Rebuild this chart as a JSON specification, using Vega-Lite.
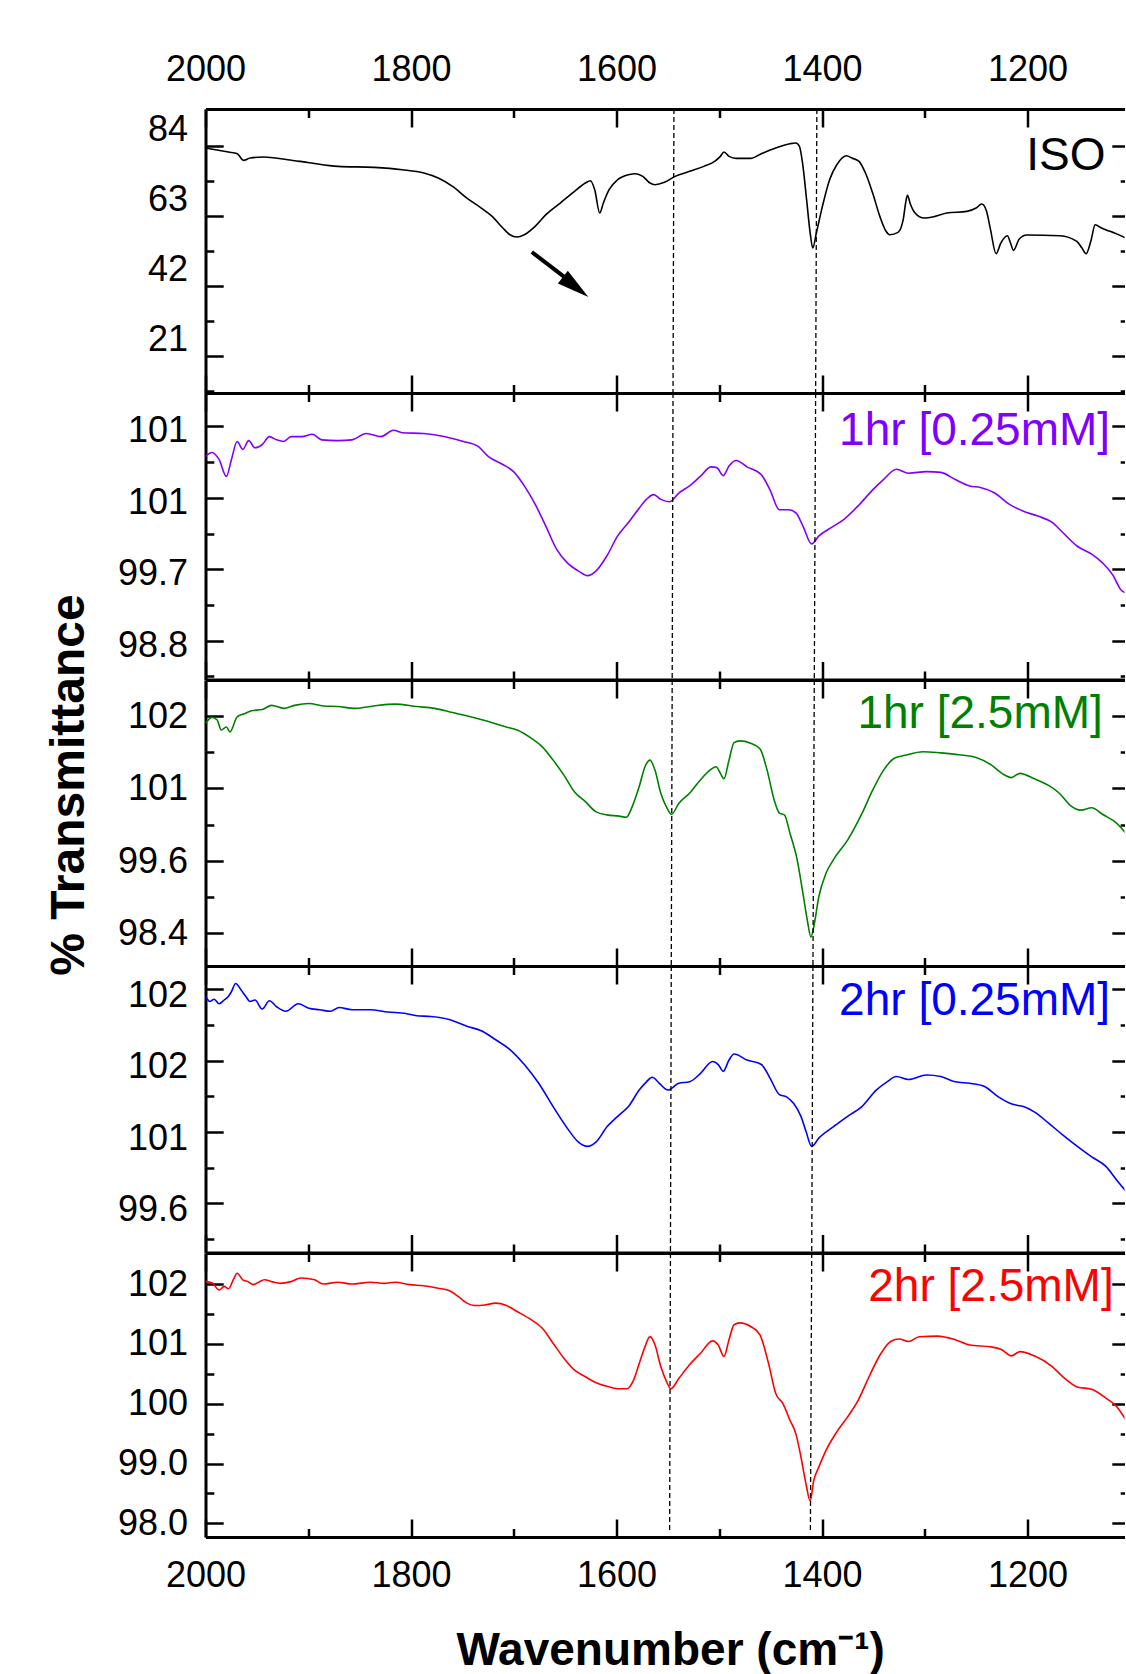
{
  "$schema": "https://vega.github.io/schema/vega-lite/v6.json",
  "background": "white",
  "padding": {"left": 44.5, "top": 51, "right": 0, "bottom": 0},
  "spacing": 0,
  "bounds": "flush",
  "datasets": {
    "iso": [
      {"w":2000,"t":83.3},{"w":1977.7,"t":82.1},{"w":1969,"t":81.6},{"w":1963,"t":79.6},{"w":1956.6,"t":80.3},{"w":1943.6,"t":80.6},{"w":1920,"t":79.8},{"w":1899,"t":78.9},{"w":1871,"t":77.8},{"w":1836,"t":77.5},{"w":1808.5,"t":76.8},{"w":1787.5,"t":75.8},{"w":1773.5,"t":74.3},{"w":1759.6,"t":71.8},{"w":1745.6,"t":68.3},{"w":1731.6,"t":65.3},{"w":1721,"t":62.8},{"w":1710.6,"t":59.3},{"w":1703.7,"t":57.3},{"w":1696.7,"t":56.6},{"w":1689.7,"t":57.3},{"w":1679.2,"t":59.8},{"w":1668.7,"t":63.3},{"w":1654.7,"t":66.8},{"w":1640.8,"t":70.3},{"w":1630.3,"t":72.8},{"w":1625.4,"t":73.5},{"w":1621.2,"t":70.8},{"w":1616.3,"t":63.8},{"w":1612.8,"t":66.8},{"w":1607.2,"t":70.8},{"w":1598.9,"t":73.8},{"w":1588.4,"t":75.3},{"w":1581.4,"t":75.6},{"w":1574.4,"t":74.8},{"w":1567.4,"t":72.8},{"w":1562.5,"t":72.3},{"w":1553.4,"t":73.0},{"w":1542.9,"t":74.8},{"w":1528.9,"t":76.3},{"w":1515,"t":77.8},{"w":1504.5,"t":79.3},{"w":1498.9,"t":80.8},{"w":1495.4,"t":82.1},{"w":1490.5,"t":80.8},{"w":1483.5,"t":80.2},{"w":1469.5,"t":80.2},{"w":1459,"t":81.6},{"w":1445.1,"t":83.3},{"w":1431.1,"t":84.6},{"w":1425.5,"t":84.8},{"w":1422,"t":83.8},{"w":1418.5,"t":77.8},{"w":1415,"t":67.8},{"w":1411.5,"t":57.8},{"w":1409,"t":53.3},{"w":1405.5,"t":57.8},{"w":1399.6,"t":65.8},{"w":1392.6,"t":73.8},{"w":1385.6,"t":78.3},{"w":1376,"t":81.0},{"w":1371,"t":80.3},{"w":1364,"t":79.3},{"w":1357.7,"t":75.8},{"w":1350.7,"t":69.8},{"w":1343.7,"t":62.8},{"w":1338,"t":58.5},{"w":1334,"t":57.3},{"w":1326,"t":58.0},{"w":1321,"t":61.8},{"w":1318.5,"t":67.0},{"w":1316.9,"t":69.1},{"w":1314,"t":66.5},{"w":1310,"t":64.0},{"w":1301.3,"t":62.3},{"w":1290,"t":62.8},{"w":1278.5,"t":63.8},{"w":1259,"t":64.3},{"w":1250,"t":65.3},{"w":1244.5,"t":66.5},{"w":1240,"t":64.5},{"w":1236,"t":58.8},{"w":1230.6,"t":51.6},{"w":1226,"t":54.8},{"w":1219.6,"t":57.0},{"w":1216.5,"t":54.8},{"w":1213.7,"t":52.6},{"w":1208,"t":56.0},{"w":1200.7,"t":57.2},{"w":1168.3,"t":57.0},{"w":1152,"t":55.3},{"w":1147,"t":53.3},{"w":1143,"t":51.6},{"w":1138,"t":55.8},{"w":1134.2,"t":60.3},{"w":1128,"t":59.3},{"w":1119.6,"t":58.3},{"w":1104,"t":56.3}
    ],
    "h1low": [
      {"w":2000,"t":101.12},{"w":1993.7,"t":101.17},{"w":1986.7,"t":101.08},{"w":1979.7,"t":100.87},{"w":1974.8,"t":101.08},{"w":1969.2,"t":101.31},{"w":1963.7,"t":101.21},{"w":1958,"t":101.32},{"w":1951.8,"t":101.23},{"w":1944.8,"t":101.27},{"w":1937.8,"t":101.37},{"w":1930.8,"t":101.33},{"w":1923.8,"t":101.31},{"w":1916.8,"t":101.37},{"w":1906.3,"t":101.37},{"w":1895.9,"t":101.40},{"w":1886.8,"t":101.33},{"w":1871.4,"t":101.32},{"w":1857.4,"t":101.33},{"w":1843.4,"t":101.41},{"w":1829.5,"t":101.37},{"w":1816.9,"t":101.45},{"w":1808.5,"t":101.42},{"w":1787.5,"t":101.41},{"w":1766.6,"t":101.37},{"w":1749.1,"t":101.31},{"w":1735.1,"t":101.25},{"w":1724.6,"t":101.12},{"w":1710.6,"t":101.02},{"w":1700.2,"t":100.93},{"w":1689.7,"t":100.75},{"w":1679.2,"t":100.52},{"w":1668.7,"t":100.24},{"w":1658.2,"t":99.95},{"w":1647.8,"t":99.78},{"w":1637.3,"t":99.68},{"w":1628.2,"t":99.62},{"w":1619.8,"t":99.68},{"w":1609.3,"t":99.87},{"w":1598.9,"t":100.12},{"w":1588.4,"t":100.29},{"w":1577.9,"t":100.47},{"w":1570.9,"t":100.58},{"w":1563.9,"t":100.64},{"w":1556.9,"t":100.58},{"w":1548.5,"t":100.55},{"w":1539.4,"t":100.66},{"w":1528.9,"t":100.75},{"w":1518.4,"t":100.87},{"w":1507.9,"t":100.99},{"w":1502.4,"t":100.98},{"w":1496.1,"t":100.88},{"w":1490.5,"t":101.00},{"w":1483.5,"t":101.07},{"w":1473,"t":100.99},{"w":1459,"t":100.89},{"w":1450.6,"t":100.70},{"w":1441.5,"t":100.45},{"w":1432.4,"t":100.45},{"w":1425.4,"t":100.41},{"w":1418.4,"t":100.24},{"w":1410.1,"t":100.02},{"w":1403,"t":100.12},{"w":1389.1,"t":100.24},{"w":1378.6,"t":100.33},{"w":1364.7,"t":100.50},{"w":1350.7,"t":100.70},{"w":1340.2,"t":100.83},{"w":1327.6,"t":100.96},{"w":1315.8,"t":100.91},{"w":1298.3,"t":100.93},{"w":1284.3,"t":100.92},{"w":1270.3,"t":100.83},{"w":1256.3,"t":100.75},{"w":1245.9,"t":100.73},{"w":1231.9,"t":100.66},{"w":1217.9,"t":100.52},{"w":1203.9,"t":100.43},{"w":1189.9,"t":100.37},{"w":1176,"t":100.29},{"w":1165.5,"t":100.16},{"w":1151.5,"t":99.99},{"w":1137.5,"t":99.89},{"w":1127,"t":99.78},{"w":1116.6,"t":99.62},{"w":1109.6,"t":99.45},{"w":1104,"t":99.40}
    ],
    "h1high": [
      {"w":2000,"t":101.88},{"w":1993.7,"t":101.98},{"w":1988.8,"t":101.94},{"w":1984.6,"t":101.77},{"w":1979.7,"t":101.82},{"w":1976.2,"t":101.74},{"w":1969.2,"t":101.99},{"w":1962.3,"t":102.04},{"w":1955.3,"t":102.09},{"w":1944.8,"t":102.11},{"w":1935.7,"t":102.18},{"w":1923.8,"t":102.13},{"w":1913.3,"t":102.18},{"w":1899.4,"t":102.21},{"w":1885.4,"t":102.17},{"w":1871.4,"t":102.16},{"w":1853.9,"t":102.13},{"w":1836.5,"t":102.17},{"w":1815.5,"t":102.20},{"w":1794.5,"t":102.16},{"w":1777.1,"t":102.13},{"w":1759.6,"t":102.06},{"w":1742.1,"t":101.99},{"w":1724.6,"t":101.91},{"w":1707.1,"t":101.82},{"w":1696.7,"t":101.77},{"w":1682.7,"t":101.63},{"w":1672.2,"t":101.49},{"w":1661.7,"t":101.27},{"w":1651.2,"t":101.02},{"w":1640.8,"t":100.74},{"w":1630.3,"t":100.58},{"w":1619.8,"t":100.41},{"w":1609.3,"t":100.36},{"w":1597.4,"t":100.34},{"w":1590.4,"t":100.32},{"w":1584.9,"t":100.49},{"w":1577.9,"t":100.83},{"w":1572.3,"t":101.16},{"w":1567.4,"t":101.27},{"w":1562.5,"t":101.10},{"w":1556.9,"t":100.72},{"w":1551.3,"t":100.49},{"w":1546.4,"t":100.37},{"w":1539.4,"t":100.55},{"w":1528.9,"t":100.72},{"w":1518.4,"t":100.94},{"w":1509.4,"t":101.10},{"w":1503.1,"t":101.16},{"w":1498.9,"t":101.05},{"w":1495.4,"t":100.96},{"w":1490.5,"t":101.27},{"w":1485.6,"t":101.56},{"w":1480,"t":101.59},{"w":1469.5,"t":101.55},{"w":1460.4,"t":101.46},{"w":1453.4,"t":101.10},{"w":1446.4,"t":100.60},{"w":1441.5,"t":100.39},{"w":1436.6,"t":100.36},{"w":1431.1,"t":100.05},{"w":1424.1,"t":99.61},{"w":1418.5,"t":99.05},{"w":1414.3,"t":98.61},{"w":1410.8,"t":98.33},{"w":1408,"t":98.50},{"w":1403.1,"t":99.00},{"w":1396.1,"t":99.39},{"w":1389.1,"t":99.61},{"w":1375.1,"t":99.94},{"w":1361.2,"t":100.38},{"w":1350.7,"t":100.77},{"w":1340.2,"t":101.10},{"w":1329.7,"t":101.30},{"w":1319.2,"t":101.35},{"w":1301.8,"t":101.41},{"w":1284.3,"t":101.39},{"w":1266.8,"t":101.36},{"w":1249.3,"t":101.31},{"w":1235.4,"t":101.19},{"w":1224.9,"t":101.05},{"w":1215.8,"t":100.98},{"w":1207.4,"t":101.05},{"w":1193.4,"t":100.96},{"w":1179.5,"t":100.85},{"w":1169,"t":100.72},{"w":1158.5,"t":100.52},{"w":1148,"t":100.44},{"w":1137.5,"t":100.48},{"w":1127,"t":100.37},{"w":1113.1,"t":100.22},{"w":1104,"t":100.05}
    ],
    "h2low": [
      {"w":2000,"t":102.36},{"w":1995.8,"t":102.29},{"w":1991.6,"t":102.32},{"w":1986.7,"t":102.26},{"w":1981.8,"t":102.31},{"w":1977.6,"t":102.36},{"w":1974.8,"t":102.42},{"w":1970.6,"t":102.53},{"w":1965.7,"t":102.45},{"w":1960.9,"t":102.36},{"w":1956.7,"t":102.29},{"w":1951.8,"t":102.31},{"w":1944.8,"t":102.19},{"w":1937.8,"t":102.30},{"w":1930.8,"t":102.22},{"w":1921.7,"t":102.16},{"w":1909.8,"t":102.26},{"w":1899.4,"t":102.20},{"w":1888.9,"t":102.18},{"w":1878.4,"t":102.16},{"w":1870,"t":102.21},{"w":1857.4,"t":102.18},{"w":1839.9,"t":102.18},{"w":1822.5,"t":102.15},{"w":1805,"t":102.13},{"w":1794.5,"t":102.10},{"w":1780.5,"t":102.09},{"w":1763,"t":102.05},{"w":1745.6,"t":101.96},{"w":1731.6,"t":101.90},{"w":1717.6,"t":101.78},{"w":1703.7,"t":101.65},{"w":1689.7,"t":101.45},{"w":1675.7,"t":101.20},{"w":1661.7,"t":100.89},{"w":1647.8,"t":100.60},{"w":1637.3,"t":100.42},{"w":1628.2,"t":100.36},{"w":1619.8,"t":100.42},{"w":1609.3,"t":100.62},{"w":1598.9,"t":100.76},{"w":1588.4,"t":100.89},{"w":1577.9,"t":101.11},{"w":1570.9,"t":101.22},{"w":1565.3,"t":101.28},{"w":1558.3,"t":101.20},{"w":1549.9,"t":101.11},{"w":1539.4,"t":101.20},{"w":1528.9,"t":101.22},{"w":1518.4,"t":101.33},{"w":1506.5,"t":101.49},{"w":1501,"t":101.45},{"w":1496.1,"t":101.36},{"w":1490.5,"t":101.51},{"w":1485.6,"t":101.59},{"w":1473,"t":101.51},{"w":1459,"t":101.45},{"w":1450.6,"t":101.27},{"w":1441.5,"t":101.05},{"w":1434.5,"t":101.02},{"w":1427.5,"t":100.93},{"w":1420.5,"t":100.76},{"w":1415.6,"t":100.56},{"w":1410.1,"t":100.36},{"w":1403.1,"t":100.47},{"w":1389.1,"t":100.62},{"w":1375.1,"t":100.76},{"w":1361.2,"t":100.89},{"w":1347.2,"t":101.11},{"w":1336.7,"t":101.22},{"w":1327.6,"t":101.29},{"w":1315.8,"t":101.25},{"w":1298.3,"t":101.31},{"w":1284.3,"t":101.29},{"w":1270.3,"t":101.22},{"w":1256.3,"t":101.20},{"w":1242.4,"t":101.16},{"w":1228.4,"t":101.02},{"w":1214.4,"t":100.92},{"w":1203.9,"t":100.89},{"w":1193.4,"t":100.82},{"w":1179.5,"t":100.67},{"w":1165.5,"t":100.51},{"w":1151.5,"t":100.36},{"w":1137.5,"t":100.22},{"w":1123.5,"t":100.09},{"w":1113.1,"t":99.91},{"w":1104,"t":99.76}
    ],
    "h2high": [
      {"w":2000,"t":102.04},{"w":1993.7,"t":102.02},{"w":1986.7,"t":101.90},{"w":1981.8,"t":101.96},{"w":1977.6,"t":101.92},{"w":1972.7,"t":102.08},{"w":1969.2,"t":102.18},{"w":1963.7,"t":102.07},{"w":1958.7,"t":102.04},{"w":1953.8,"t":101.99},{"w":1948.3,"t":102.03},{"w":1942.7,"t":102.07},{"w":1935.7,"t":102.04},{"w":1927.3,"t":102.01},{"w":1916.8,"t":102.04},{"w":1907.3,"t":102.10},{"w":1893.8,"t":102.07},{"w":1885.4,"t":102.00},{"w":1871.4,"t":102.03},{"w":1857.4,"t":102.00},{"w":1839.9,"t":102.03},{"w":1826,"t":102.01},{"w":1815.5,"t":102.03},{"w":1801.5,"t":101.99},{"w":1787.5,"t":101.97},{"w":1773.5,"t":101.93},{"w":1763,"t":101.89},{"w":1753.9,"t":101.79},{"w":1745.6,"t":101.68},{"w":1738.6,"t":101.64},{"w":1728.1,"t":101.65},{"w":1717.6,"t":101.68},{"w":1707.1,"t":101.64},{"w":1696.7,"t":101.54},{"w":1682.7,"t":101.40},{"w":1672.2,"t":101.26},{"w":1661.7,"t":101.01},{"w":1651.2,"t":100.76},{"w":1640.8,"t":100.56},{"w":1630.3,"t":100.45},{"w":1619.8,"t":100.35},{"w":1609.3,"t":100.29},{"w":1598.9,"t":100.25},{"w":1589.8,"t":100.25},{"w":1583.5,"t":100.39},{"w":1577.9,"t":100.67},{"w":1572.3,"t":100.95},{"w":1567.4,"t":101.12},{"w":1562.5,"t":100.98},{"w":1556.9,"t":100.62},{"w":1551.3,"t":100.37},{"w":1547.1,"t":100.25},{"w":1539.4,"t":100.42},{"w":1528.9,"t":100.65},{"w":1518.4,"t":100.84},{"w":1506.5,"t":101.05},{"w":1501,"t":100.98},{"w":1495.4,"t":100.79},{"w":1490.5,"t":101.07},{"w":1485.6,"t":101.32},{"w":1480,"t":101.35},{"w":1469.5,"t":101.29},{"w":1460.4,"t":101.15},{"w":1452,"t":100.67},{"w":1445,"t":100.17},{"w":1438,"t":100.00},{"w":1431.1,"t":99.72},{"w":1425.5,"t":99.50},{"w":1420.5,"t":99.11},{"w":1415.6,"t":98.66},{"w":1411.5,"t":98.38},{"w":1408,"t":98.72},{"w":1403.1,"t":98.94},{"w":1396.1,"t":99.22},{"w":1385.6,"t":99.53},{"w":1375.1,"t":99.78},{"w":1364.7,"t":100.06},{"w":1354.2,"t":100.45},{"w":1343.7,"t":100.81},{"w":1333.2,"t":101.04},{"w":1324.8,"t":101.08},{"w":1315.8,"t":101.04},{"w":1305.3,"t":101.12},{"w":1287.8,"t":101.13},{"w":1270.3,"t":101.07},{"w":1256.3,"t":100.98},{"w":1235.4,"t":100.95},{"w":1224.9,"t":100.90},{"w":1215.8,"t":100.80},{"w":1207.4,"t":100.87},{"w":1193.4,"t":100.80},{"w":1176,"t":100.62},{"w":1165.5,"t":100.45},{"w":1151.5,"t":100.28},{"w":1137.5,"t":100.24},{"w":1123.5,"t":100.09},{"w":1113.1,"t":99.95},{"w":1104,"t":99.72}
    ]
  },
  "vconcat": [
    {
      "width": 919, "height": 284,
      "resolve": {"axis": {"x": "independent", "y": "independent"}},
      "layer": [
        {"data": {"name": "iso"}, "mark": {"type": "line", "color": "#000000", "strokeWidth": 1.6, "clip": true, "interpolate": "monotone"},
         "encoding": {
           "x": {"field": "w", "type": "quantitative", "scale": {"domain": [1105.6, 2000], "reverse": true, "nice": false, "zero": false}, "axis": {"orient": "bottom", "values": [2000,1800,1600,1400,1200], "ticks": false, "labels": false, "title": null}},
           "y": {"field": "t", "type": "quantitative", "scale": {"domain": [9.81, 95.01], "nice": false, "zero": false}, "axis": {"orient": "left", "values": [21,42,63,84], "format": "d", "ticks": false, "labelPadding": 18, "labelBaseline": "middle", "labelOffset": -16, "title": null}}
         }},
        {"data": {"name": "iso"}, "mark": {"type": "line", "strokeOpacity": 0},
         "encoding": {
           "x": {"field": "w", "type": "quantitative", "scale": {"domain": [1105.6, 2000], "reverse": true, "nice": false, "zero": false}, "axis": {"orient": "top", "values": [2000,1800,1600,1400,1200], "format": "d", "ticks": false, "labels": true, "labelBaseline": "alphabetic", "labelPadding": 28.5, "title": null}},
           "y": {"field": "t", "type": "quantitative", "scale": {"domain": [9.81, 95.01], "nice": false, "zero": false}, "axis": {"orient": "right", "values": [21,42,63,84], "domain": false, "labels": false, "tickSize": -12.7, "title": null}}
         }},
        {"data": {"name": "iso"}, "mark": {"type": "line", "strokeOpacity": 0},
         "encoding": {
           "x": {"field": "w", "type": "quantitative", "scale": {"domain": [1105.6, 2000], "reverse": true, "nice": false, "zero": false}, "axis": {"orient": "top", "values": [2000,1800,1600,1400,1200], "domain": false, "labels": false, "tickSize": -18, "title": null}},
           "y": {"field": "t", "type": "quantitative", "scale": {"domain": [9.81, 95.01], "nice": false, "zero": false}, "axis": {"orient": "right", "values": [10.5,31.5,52.5,73.5], "domain": false, "labels": false, "tickSize": -4.3, "title": null}}
         }},
        {"data": {"name": "iso"}, "mark": {"type": "line", "strokeOpacity": 0},
         "encoding": {
           "x": {"field": "w", "type": "quantitative", "scale": {"domain": [1105.6, 2000], "reverse": true, "nice": false, "zero": false}, "axis": {"orient": "top", "values": [1900,1700,1500,1300], "domain": false, "labels": false, "tickSize": -8.5, "title": null}},
           "y": {"field": "t", "type": "quantitative", "scale": {"domain": [9.81, 95.01], "nice": false, "zero": false}, "axis": {"orient": "left", "values": [21,42,63,84], "domain": false, "labels": false, "tickSize": -17.7, "title": null}}
         }},
        {"data": {"name": "iso"}, "mark": {"type": "line", "strokeOpacity": 0},
         "encoding": {
           "x": {"field": "w", "type": "quantitative", "scale": {"domain": [1105.6, 2000], "reverse": true, "nice": false, "zero": false}, "axis": {"orient": "bottom", "values": [2000,1800,1600,1400,1200], "domain": false, "labels": false, "tickSize": -18, "title": null}},
           "y": {"field": "t", "type": "quantitative", "scale": {"domain": [9.81, 95.01], "nice": false, "zero": false}, "axis": {"orient": "left", "values": [10.5,31.5,52.5,73.5], "domain": false, "labels": false, "tickSize": -8.3, "title": null}}
         }},
        {"data": {"name": "iso"}, "mark": {"type": "line", "strokeOpacity": 0},
         "encoding": {
           "x": {"field": "w", "type": "quantitative", "scale": {"domain": [1105.6, 2000], "reverse": true, "nice": false, "zero": false}, "axis": {"orient": "bottom", "values": [1900,1700,1500,1300], "domain": false, "labels": false, "tickSize": -8.5, "title": null}},
           "y": {"field": "t", "type": "quantitative", "scale": {"domain": [9.81, 95.01], "nice": false, "zero": false}, "axis": null}
         }},
        {"data": {"values": [{"wa": 1544.1, "wb": 1545.0}, {"wa": 1405.0, "wb": 1406.2}]},
         "mark": {"type": "rule", "color": "#000000", "strokeWidth": 1.3, "strokeDash": [5, 3]},
         "encoding": {
           "x": {"field": "wa", "type": "quantitative", "scale": {"domain": [1105.6, 2000], "reverse": true, "nice": false, "zero": false}, "axis": null},
           "x2": {"field": "wb"},
           "y": {"datum": 95.01, "type": "quantitative", "scale": {"domain": [9.81, 95.01], "nice": false, "zero": false}, "axis": null},
           "y2": {"datum": 9.81}
         }},
        {"data": {"values": [{"label": "ISO"}]},
         "mark": {"type": "text", "align": "right", "baseline": "alphabetic", "fontSize": 46, "font": "Liberation Sans", "color": "#000000"},
         "encoding": {
           "text": {"field": "label"},
           "x": {"datum": 1124, "type": "quantitative", "scale": {"domain": [1105.6, 2000], "reverse": true, "nice": false, "zero": false}, "axis": null},
           "y": {"datum": 76.8, "type": "quantitative", "scale": {"domain": [9.81, 95.01], "nice": false, "zero": false}, "axis": null}
         }},
        {"data": {"values": [{"note": "arrow"}]},
         "mark": {"type": "rule", "color": "#000000", "strokeWidth": 4},
         "encoding": {
           "x": {"datum": 1682.4, "type": "quantitative", "scale": {"domain": [1105.6, 2000], "reverse": true, "nice": false, "zero": false}, "axis": null},
           "x2": {"datum": 1641},
           "y": {"datum": 52.1, "type": "quantitative", "scale": {"domain": [9.81, 95.01], "nice": false, "zero": false}, "axis": null},
           "y2": {"datum": 42.3}
         }},
        {"data": {"values": [{"note": "arrowhead"}]},
         "mark": {"type": "point", "shape": "M0,-1L0.5,1L-0.5,1Z", "size": 1050, "angle": 128, "filled": true, "color": "#000000", "opacity": 1},
         "encoding": {
           "x": {"datum": 1639.8, "type": "quantitative", "scale": {"domain": [1105.6, 2000], "reverse": true, "nice": false, "zero": false}, "axis": null},
           "y": {"datum": 41.6, "type": "quantitative", "scale": {"domain": [9.81, 95.01], "nice": false, "zero": false}, "axis": null}
         }}
      ]
    },
    {
      "width": 919, "height": 286.5,
      "resolve": {"axis": {"x": "independent", "y": "independent"}},
      "layer": [
        {"data": {"name": "h1low"}, "mark": {"type": "line", "color": "#8000ff", "strokeWidth": 1.6, "clip": true, "interpolate": "monotone"},
         "encoding": {
           "x": {"field": "w", "type": "quantitative", "scale": {"domain": [1105.6, 2000], "reverse": true, "nice": false, "zero": false}, "axis": {"orient": "bottom", "values": [2000,1800,1600,1400,1200], "ticks": false, "labels": false, "title": null}},
           "y": {"field": "t", "type": "quantitative", "scale": {"domain": [98.312, 101.92], "nice": false, "zero": false}, "axis": {"orient": "left", "values": [98.8,99.7,100.6,101.5], "labelExpr": "datum.value > 100 ? '101' : format(datum.value, '.1f')", "ticks": false, "labelPadding": 18, "labelBaseline": "middle", "labelOffset": 4.5, "title": null}}
         }},
        {"data": {"name": "h1low"}, "mark": {"type": "line", "strokeOpacity": 0},
         "encoding": {
           "x": {"field": "w", "type": "quantitative", "scale": {"domain": [1105.6, 2000], "reverse": true, "nice": false, "zero": false}, "axis": {"orient": "top", "values": [2000,1800,1600,1400,1200], "ticks": false, "labels": false, "title": null}},
           "y": {"field": "t", "type": "quantitative", "scale": {"domain": [98.312, 101.92], "nice": false, "zero": false}, "axis": {"orient": "right", "values": [98.8,99.7,100.6,101.5], "domain": false, "labels": false, "tickSize": -12.7, "title": null}}
         }},
        {"data": {"name": "h1low"}, "mark": {"type": "line", "strokeOpacity": 0},
         "encoding": {
           "x": {"field": "w", "type": "quantitative", "scale": {"domain": [1105.6, 2000], "reverse": true, "nice": false, "zero": false}, "axis": {"orient": "top", "values": [2000,1800,1600,1400,1200], "domain": false, "labels": false, "tickSize": -18, "title": null}},
           "y": {"field": "t", "type": "quantitative", "scale": {"domain": [98.312, 101.92], "nice": false, "zero": false}, "axis": {"orient": "right", "values": [98.35,99.25,100.15,101.05], "domain": false, "labels": false, "tickSize": -4.3, "title": null}}
         }},
        {"data": {"name": "h1low"}, "mark": {"type": "line", "strokeOpacity": 0},
         "encoding": {
           "x": {"field": "w", "type": "quantitative", "scale": {"domain": [1105.6, 2000], "reverse": true, "nice": false, "zero": false}, "axis": {"orient": "top", "values": [1900,1700,1500,1300], "domain": false, "labels": false, "tickSize": -8.5, "title": null}},
           "y": {"field": "t", "type": "quantitative", "scale": {"domain": [98.312, 101.92], "nice": false, "zero": false}, "axis": {"orient": "left", "values": [98.8,99.7,100.6,101.5], "domain": false, "labels": false, "tickSize": -17.7, "title": null}}
         }},
        {"data": {"name": "h1low"}, "mark": {"type": "line", "strokeOpacity": 0},
         "encoding": {
           "x": {"field": "w", "type": "quantitative", "scale": {"domain": [1105.6, 2000], "reverse": true, "nice": false, "zero": false}, "axis": {"orient": "bottom", "values": [2000,1800,1600,1400,1200], "domain": false, "labels": false, "tickSize": -18, "title": null}},
           "y": {"field": "t", "type": "quantitative", "scale": {"domain": [98.312, 101.92], "nice": false, "zero": false}, "axis": {"orient": "left", "values": [98.35,99.25,100.15,101.05], "domain": false, "labels": false, "tickSize": -8.3, "title": null}}
         }},
        {"data": {"name": "h1low"}, "mark": {"type": "line", "strokeOpacity": 0},
         "encoding": {
           "x": {"field": "w", "type": "quantitative", "scale": {"domain": [1105.6, 2000], "reverse": true, "nice": false, "zero": false}, "axis": {"orient": "bottom", "values": [1900,1700,1500,1300], "domain": false, "labels": false, "tickSize": -8.5, "title": null}},
           "y": {"field": "t", "type": "quantitative", "scale": {"domain": [98.312, 101.92], "nice": false, "zero": false}, "axis": null}
         }},
        {"data": {"values": [{"wa": 1545.0, "wb": 1545.8}, {"wa": 1406.2, "wb": 1407.5}]},
         "mark": {"type": "rule", "color": "#000000", "strokeWidth": 1.3, "strokeDash": [5, 3]},
         "encoding": {
           "x": {"field": "wa", "type": "quantitative", "scale": {"domain": [1105.6, 2000], "reverse": true, "nice": false, "zero": false}, "axis": null},
           "x2": {"field": "wb"},
           "y": {"datum": 101.92, "type": "quantitative", "scale": {"domain": [98.312, 101.92], "nice": false, "zero": false}, "axis": null},
           "y2": {"datum": 98.312}
         }},
        {"data": {"values": [{"label": "1hr [0.25mM]"}]},
         "mark": {"type": "text", "align": "right", "baseline": "alphabetic", "fontSize": 46, "font": "Liberation Sans", "color": "#8000ff"},
         "encoding": {
           "text": {"field": "label"},
           "x": {"datum": 1119.6, "type": "quantitative", "scale": {"domain": [1105.6, 2000], "reverse": true, "nice": false, "zero": false}, "axis": null},
           "y": {"datum": 101.27, "type": "quantitative", "scale": {"domain": [98.312, 101.92], "nice": false, "zero": false}, "axis": null}
         }}
      ]
    },
    {
      "width": 919, "height": 286,
      "resolve": {"axis": {"x": "independent", "y": "independent"}},
      "layer": [
        {"data": {"name": "h1high"}, "mark": {"type": "line", "color": "#008000", "strokeWidth": 1.6, "clip": true, "interpolate": "monotone"},
         "encoding": {
           "x": {"field": "w", "type": "quantitative", "scale": {"domain": [1105.6, 2000], "reverse": true, "nice": false, "zero": false}, "axis": {"orient": "bottom", "values": [2000,1800,1600,1400,1200], "ticks": false, "labels": false, "title": null}},
           "y": {"field": "t", "type": "quantitative", "scale": {"domain": [97.85, 102.601], "nice": false, "zero": false}, "axis": {"orient": "left", "values": [98.4,99.6,100.8,102.0], "labelExpr": "datum.value > 101.5 ? '102' : datum.value > 100 ? '101' : format(datum.value, '.1f')", "ticks": false, "labelPadding": 18, "labelBaseline": "middle", "labelOffset": 0.5, "title": "% Transmittance", "titleAngle": 270, "titleX": -136, "titleY": 104.6, "titleAlign": "center", "titleBaseline": "middle", "titleFontSize": 48}}
         }},
        {"data": {"name": "h1high"}, "mark": {"type": "line", "strokeOpacity": 0},
         "encoding": {
           "x": {"field": "w", "type": "quantitative", "scale": {"domain": [1105.6, 2000], "reverse": true, "nice": false, "zero": false}, "axis": {"orient": "top", "values": [2000,1800,1600,1400,1200], "ticks": false, "labels": false, "title": null}},
           "y": {"field": "t", "type": "quantitative", "scale": {"domain": [97.85, 102.601], "nice": false, "zero": false}, "axis": {"orient": "right", "values": [98.4,99.6,100.8,102.0], "domain": false, "labels": false, "tickSize": -12.7, "title": null}}
         }},
        {"data": {"name": "h1high"}, "mark": {"type": "line", "strokeOpacity": 0},
         "encoding": {
           "x": {"field": "w", "type": "quantitative", "scale": {"domain": [1105.6, 2000], "reverse": true, "nice": false, "zero": false}, "axis": {"orient": "top", "values": [2000,1800,1600,1400,1200], "domain": false, "labels": false, "tickSize": -18, "title": null}},
           "y": {"field": "t", "type": "quantitative", "scale": {"domain": [97.85, 102.601], "nice": false, "zero": false}, "axis": {"orient": "right", "values": [99.0,100.2,101.4], "domain": false, "labels": false, "tickSize": -4.3, "title": null}}
         }},
        {"data": {"name": "h1high"}, "mark": {"type": "line", "strokeOpacity": 0},
         "encoding": {
           "x": {"field": "w", "type": "quantitative", "scale": {"domain": [1105.6, 2000], "reverse": true, "nice": false, "zero": false}, "axis": {"orient": "top", "values": [1900,1700,1500,1300], "domain": false, "labels": false, "tickSize": -8.5, "title": null}},
           "y": {"field": "t", "type": "quantitative", "scale": {"domain": [97.85, 102.601], "nice": false, "zero": false}, "axis": {"orient": "left", "values": [98.4,99.6,100.8,102.0], "domain": false, "labels": false, "tickSize": -17.7, "title": null}}
         }},
        {"data": {"name": "h1high"}, "mark": {"type": "line", "strokeOpacity": 0},
         "encoding": {
           "x": {"field": "w", "type": "quantitative", "scale": {"domain": [1105.6, 2000], "reverse": true, "nice": false, "zero": false}, "axis": {"orient": "bottom", "values": [2000,1800,1600,1400,1200], "domain": false, "labels": false, "tickSize": -18, "title": null}},
           "y": {"field": "t", "type": "quantitative", "scale": {"domain": [97.85, 102.601], "nice": false, "zero": false}, "axis": {"orient": "left", "values": [99.0,100.2,101.4], "domain": false, "labels": false, "tickSize": -8.3, "title": null}}
         }},
        {"data": {"name": "h1high"}, "mark": {"type": "line", "strokeOpacity": 0},
         "encoding": {
           "x": {"field": "w", "type": "quantitative", "scale": {"domain": [1105.6, 2000], "reverse": true, "nice": false, "zero": false}, "axis": {"orient": "bottom", "values": [1900,1700,1500,1300], "domain": false, "labels": false, "tickSize": -8.5, "title": null}},
           "y": {"field": "t", "type": "quantitative", "scale": {"domain": [97.85, 102.601], "nice": false, "zero": false}, "axis": null}
         }},
        {"data": {"values": [{"wa": 1545.8, "wb": 1546.7}, {"wa": 1407.5, "wb": 1408.8}]},
         "mark": {"type": "rule", "color": "#000000", "strokeWidth": 1.3, "strokeDash": [5, 3]},
         "encoding": {
           "x": {"field": "wa", "type": "quantitative", "scale": {"domain": [1105.6, 2000], "reverse": true, "nice": false, "zero": false}, "axis": null},
           "x2": {"field": "wb"},
           "y": {"datum": 102.601, "type": "quantitative", "scale": {"domain": [97.85, 102.601], "nice": false, "zero": false}, "axis": null},
           "y2": {"datum": 97.85}
         }},
        {"data": {"values": [{"label": "1hr [2.5mM]"}]},
         "mark": {"type": "text", "align": "right", "baseline": "alphabetic", "fontSize": 46, "font": "Liberation Sans", "color": "#008000"},
         "encoding": {
           "text": {"field": "label"},
           "x": {"datum": 1126.7, "type": "quantitative", "scale": {"domain": [1105.6, 2000], "reverse": true, "nice": false, "zero": false}, "axis": null},
           "y": {"datum": 101.80, "type": "quantitative", "scale": {"domain": [97.85, 102.601], "nice": false, "zero": false}, "axis": null}
         }}
      ]
    },
    {
      "width": 919, "height": 286.5,
      "resolve": {"axis": {"x": "independent", "y": "independent"}},
      "layer": [
        {"data": {"name": "h2low"}, "mark": {"type": "line", "color": "#0000ff", "strokeWidth": 1.6, "clip": true, "interpolate": "monotone"},
         "encoding": {
           "x": {"field": "w", "type": "quantitative", "scale": {"domain": [1105.6, 2000], "reverse": true, "nice": false, "zero": false}, "axis": {"orient": "bottom", "values": [2000,1800,1600,1400,1200], "ticks": false, "labels": false, "title": null}},
           "y": {"field": "t", "type": "quantitative", "scale": {"domain": [98.946, 102.763], "nice": false, "zero": false}, "axis": {"orient": "left", "values": [99.6,100.55,101.5,102.45], "labelExpr": "datum.value > 101 ? '102' : datum.value > 100 ? '101' : '99.6'", "ticks": false, "labelPadding": 18, "labelBaseline": "middle", "labelOffset": 6, "title": null}}
         }},
        {"data": {"name": "h2low"}, "mark": {"type": "line", "strokeOpacity": 0},
         "encoding": {
           "x": {"field": "w", "type": "quantitative", "scale": {"domain": [1105.6, 2000], "reverse": true, "nice": false, "zero": false}, "axis": {"orient": "top", "values": [2000,1800,1600,1400,1200], "ticks": false, "labels": false, "title": null}},
           "y": {"field": "t", "type": "quantitative", "scale": {"domain": [98.946, 102.763], "nice": false, "zero": false}, "axis": {"orient": "right", "values": [99.6,100.55,101.5,102.45], "domain": false, "labels": false, "tickSize": -12.7, "title": null}}
         }},
        {"data": {"name": "h2low"}, "mark": {"type": "line", "strokeOpacity": 0},
         "encoding": {
           "x": {"field": "w", "type": "quantitative", "scale": {"domain": [1105.6, 2000], "reverse": true, "nice": false, "zero": false}, "axis": {"orient": "top", "values": [2000,1800,1600,1400,1200], "domain": false, "labels": false, "tickSize": -18, "title": null}},
           "y": {"field": "t", "type": "quantitative", "scale": {"domain": [98.946, 102.763], "nice": false, "zero": false}, "axis": {"orient": "right", "values": [99.125,100.075,101.025,101.975], "domain": false, "labels": false, "tickSize": -4.3, "title": null}}
         }},
        {"data": {"name": "h2low"}, "mark": {"type": "line", "strokeOpacity": 0},
         "encoding": {
           "x": {"field": "w", "type": "quantitative", "scale": {"domain": [1105.6, 2000], "reverse": true, "nice": false, "zero": false}, "axis": {"orient": "top", "values": [1900,1700,1500,1300], "domain": false, "labels": false, "tickSize": -8.5, "title": null}},
           "y": {"field": "t", "type": "quantitative", "scale": {"domain": [98.946, 102.763], "nice": false, "zero": false}, "axis": {"orient": "left", "values": [99.6,100.55,101.5,102.45], "domain": false, "labels": false, "tickSize": -17.7, "title": null}}
         }},
        {"data": {"name": "h2low"}, "mark": {"type": "line", "strokeOpacity": 0},
         "encoding": {
           "x": {"field": "w", "type": "quantitative", "scale": {"domain": [1105.6, 2000], "reverse": true, "nice": false, "zero": false}, "axis": {"orient": "bottom", "values": [2000,1800,1600,1400,1200], "domain": false, "labels": false, "tickSize": -18, "title": null}},
           "y": {"field": "t", "type": "quantitative", "scale": {"domain": [98.946, 102.763], "nice": false, "zero": false}, "axis": {"orient": "left", "values": [99.125,100.075,101.025,101.975], "domain": false, "labels": false, "tickSize": -8.3, "title": null}}
         }},
        {"data": {"name": "h2low"}, "mark": {"type": "line", "strokeOpacity": 0},
         "encoding": {
           "x": {"field": "w", "type": "quantitative", "scale": {"domain": [1105.6, 2000], "reverse": true, "nice": false, "zero": false}, "axis": {"orient": "bottom", "values": [1900,1700,1500,1300], "domain": false, "labels": false, "tickSize": -8.5, "title": null}},
           "y": {"field": "t", "type": "quantitative", "scale": {"domain": [98.946, 102.763], "nice": false, "zero": false}, "axis": null}
         }},
        {"data": {"values": [{"wa": 1546.7, "wb": 1547.5}, {"wa": 1408.8, "wb": 1410.0}]},
         "mark": {"type": "rule", "color": "#000000", "strokeWidth": 1.3, "strokeDash": [5, 3]},
         "encoding": {
           "x": {"field": "wa", "type": "quantitative", "scale": {"domain": [1105.6, 2000], "reverse": true, "nice": false, "zero": false}, "axis": null},
           "x2": {"field": "wb"},
           "y": {"datum": 102.763, "type": "quantitative", "scale": {"domain": [98.946, 102.763], "nice": false, "zero": false}, "axis": null},
           "y2": {"datum": 98.946}
         }},
        {"data": {"values": [{"label": "2hr [0.25mM]"}]},
         "mark": {"type": "text", "align": "right", "baseline": "alphabetic", "fontSize": 46, "font": "Liberation Sans", "color": "#0000ff"},
         "encoding": {
           "text": {"field": "label"},
           "x": {"datum": 1119.6, "type": "quantitative", "scale": {"domain": [1105.6, 2000], "reverse": true, "nice": false, "zero": false}, "axis": null},
           "y": {"datum": 102.11, "type": "quantitative", "scale": {"domain": [98.946, 102.763], "nice": false, "zero": false}, "axis": null}
         }}
      ]
    },
    {
      "width": 919, "height": 284,
      "resolve": {"axis": {"x": "independent", "y": "independent"}},
      "layer": [
        {"data": {"name": "h2high"}, "mark": {"type": "line", "color": "#ff0000", "strokeWidth": 1.6, "clip": true, "interpolate": "monotone"},
         "encoding": {
           "x": {"field": "w", "type": "quantitative", "scale": {"domain": [1105.6, 2000], "reverse": true, "nice": false, "zero": false}, "axis": {"orient": "bottom", "values": [2000,1800,1600,1400,1200], "format": "d", "ticks": false, "labels": true, "labelPadding": 21, "title": "Wavenumber (cm⁻¹)", "titleX": 464.6, "titleY": 127.7, "titleAlign": "center", "titleBaseline": "alphabetic", "titleFontSize": 46}},
           "y": {"field": "t", "type": "quantitative", "scale": {"domain": [97.773, 102.518], "nice": false, "zero": false}, "axis": {"orient": "left", "values": [98,99,100,101,102], "labelExpr": "datum.value >= 100 ? format(datum.value, '.0f') : format(datum.value, '.1f')", "ticks": false, "labelPadding": 18, "labelBaseline": "middle", "labelOffset": 0, "title": null}}
         }},
        {"data": {"name": "h2high"}, "mark": {"type": "line", "strokeOpacity": 0},
         "encoding": {
           "x": {"field": "w", "type": "quantitative", "scale": {"domain": [1105.6, 2000], "reverse": true, "nice": false, "zero": false}, "axis": {"orient": "top", "values": [2000,1800,1600,1400,1200], "ticks": false, "labels": false, "title": null}},
           "y": {"field": "t", "type": "quantitative", "scale": {"domain": [97.773, 102.518], "nice": false, "zero": false}, "axis": {"orient": "right", "values": [98,99,100,101,102], "domain": false, "labels": false, "tickSize": -12.7, "title": null}}
         }},
        {"data": {"name": "h2high"}, "mark": {"type": "line", "strokeOpacity": 0},
         "encoding": {
           "x": {"field": "w", "type": "quantitative", "scale": {"domain": [1105.6, 2000], "reverse": true, "nice": false, "zero": false}, "axis": {"orient": "top", "values": [2000,1800,1600,1400,1200], "domain": false, "labels": false, "tickSize": -18, "title": null}},
           "y": {"field": "t", "type": "quantitative", "scale": {"domain": [97.773, 102.518], "nice": false, "zero": false}, "axis": {"orient": "right", "values": [98.5,99.5,100.5,101.5], "domain": false, "labels": false, "tickSize": -4.3, "title": null}}
         }},
        {"data": {"name": "h2high"}, "mark": {"type": "line", "strokeOpacity": 0},
         "encoding": {
           "x": {"field": "w", "type": "quantitative", "scale": {"domain": [1105.6, 2000], "reverse": true, "nice": false, "zero": false}, "axis": {"orient": "top", "values": [1900,1700,1500,1300], "domain": false, "labels": false, "tickSize": -8.5, "title": null}},
           "y": {"field": "t", "type": "quantitative", "scale": {"domain": [97.773, 102.518], "nice": false, "zero": false}, "axis": {"orient": "left", "values": [98,99,100,101,102], "domain": false, "labels": false, "tickSize": -17.7, "title": null}}
         }},
        {"data": {"name": "h2high"}, "mark": {"type": "line", "strokeOpacity": 0},
         "encoding": {
           "x": {"field": "w", "type": "quantitative", "scale": {"domain": [1105.6, 2000], "reverse": true, "nice": false, "zero": false}, "axis": {"orient": "bottom", "values": [2000,1800,1600,1400,1200], "domain": false, "labels": false, "tickSize": -18, "title": null}},
           "y": {"field": "t", "type": "quantitative", "scale": {"domain": [97.773, 102.518], "nice": false, "zero": false}, "axis": {"orient": "left", "values": [98.5,99.5,100.5,101.5], "domain": false, "labels": false, "tickSize": -8.3, "title": null}}
         }},
        {"data": {"name": "h2high"}, "mark": {"type": "line", "strokeOpacity": 0},
         "encoding": {
           "x": {"field": "w", "type": "quantitative", "scale": {"domain": [1105.6, 2000], "reverse": true, "nice": false, "zero": false}, "axis": {"orient": "bottom", "values": [1900,1700,1500,1300], "domain": false, "labels": false, "tickSize": -8.5, "title": null}},
           "y": {"field": "t", "type": "quantitative", "scale": {"domain": [97.773, 102.518], "nice": false, "zero": false}, "axis": null}
         }},
        {"data": {"values": [{"wa": 1547.5, "wb": 1548.3}, {"wa": 1410.0, "wb": 1411.3}]},
         "mark": {"type": "rule", "color": "#000000", "strokeWidth": 1.3, "strokeDash": [5, 3]},
         "encoding": {
           "x": {"field": "wa", "type": "quantitative", "scale": {"domain": [1105.6, 2000], "reverse": true, "nice": false, "zero": false}, "axis": null},
           "x2": {"field": "wb"},
           "y": {"datum": 102.518, "type": "quantitative", "scale": {"domain": [97.773, 102.518], "nice": false, "zero": false}, "axis": null},
           "y2": {"datum": 97.85}
         }},
        {"data": {"values": [{"label": "2hr [2.5mM]"}]},
         "mark": {"type": "text", "align": "right", "baseline": "alphabetic", "fontSize": 46, "font": "Liberation Sans", "color": "#ff0000"},
         "encoding": {
           "text": {"field": "label"},
           "x": {"datum": 1116.1, "type": "quantitative", "scale": {"domain": [1105.6, 2000], "reverse": true, "nice": false, "zero": false}, "axis": null},
           "y": {"datum": 101.72, "type": "quantitative", "scale": {"domain": [97.773, 102.518], "nice": false, "zero": false}, "axis": null}
         }}
      ]
    }
  ],
  "config": {
    "font": "Liberation Sans",
    "view": {"stroke": null},
    "axis": {
      "grid": false,
      "domainColor": "#000000",
      "domainWidth": 3,
      "tickColor": "#000000",
      "tickWidth": 2.5,
      "labelColor": "#000000",
      "labelFont": "Liberation Sans",
      "labelFontSize": 36,
      "labelFlush": false,
      "labelOverlap": false,
      "titleColor": "#000000",
      "titleFont": "Liberation Sans",
      "titleFontWeight": "bold"
    }
  }
}
